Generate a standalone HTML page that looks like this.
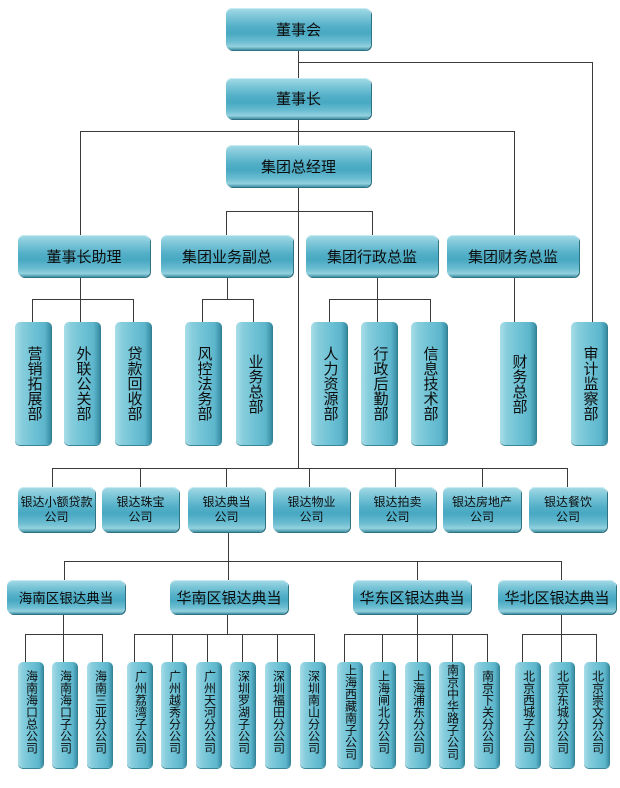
<!DOCTYPE html>
<html>
<head>
<meta charset="utf-8">
<style>
html,body{margin:0;padding:0;background:#fff;}
body{width:620px;height:788px;position:relative;overflow:hidden;font-family:"Liberation Sans","Noto Sans CJK SC","WenQuanYi Zen Hei",sans-serif;color:#0d0d0d;}
svg{position:absolute;left:0;top:0;}
.h{position:absolute;box-sizing:border-box;border-radius:6px;
background:linear-gradient(to bottom,#a6dbe6 0%,#7cc6d8 20%,#52afc7 45%,#48a9c2 60%,#6bbdd1 80%,#93d1de 92%,#3f8fa3 100%);
box-shadow:1px 1px 0 #2f7283, inset 0 1px 0 #c8ecf3;
display:flex;align-items:center;justify-content:center;text-align:center;white-space:nowrap;}
.v{position:absolute;box-sizing:border-box;border-radius:5px;
background:linear-gradient(to right,#a9dde8 0%,#86cddc 20%,#6fc2d5 50%,#5db6cc 80%,#3f95ab 94%,#2f7a8d 100%);
box-shadow:0 1px 0 #3a8599;
display:flex;align-items:center;justify-content:center;}
.vt{writing-mode:vertical-rl;text-orientation:upright;letter-spacing:0;}
.big{font-size:15px;}
.d{font-size:15px;line-height:15px;}
.d .vt{line-height:16px;}
.c{font-size:12px;line-height:15px;white-space:normal;}
.r{font-size:15px;}
.b{font-size:12px;}
.b .vt{line-height:13px;margin-top:-6px;}
</style>
</head>
<body>
<svg width="620" height="788" viewBox="0 0 620 788">
<g stroke="#3a3a3a" stroke-width="1" fill="none" shape-rendering="crispEdges">
<!-- top -->
<line x1="298.5" y1="50" x2="298.5" y2="78"/>
<line x1="298" y1="62.5" x2="593" y2="62.5"/>
<line x1="592.5" y1="62" x2="592.5" y2="322"/>
<line x1="298.5" y1="119" x2="298.5" y2="145"/>
<line x1="80" y1="131.5" x2="515" y2="131.5"/>
<line x1="80.5" y1="131" x2="80.5" y2="235"/>
<line x1="514.5" y1="131" x2="514.5" y2="235"/>
<line x1="298.5" y1="187" x2="298.5" y2="469"/>
<line x1="226" y1="211.5" x2="373" y2="211.5"/>
<line x1="226.5" y1="211" x2="226.5" y2="235"/>
<line x1="372.5" y1="211" x2="372.5" y2="235"/>
<!-- assistant -->
<line x1="80.5" y1="277" x2="80.5" y2="322"/>
<line x1="32" y1="299.5" x2="134" y2="299.5"/>
<line x1="32.5" y1="299" x2="32.5" y2="322"/>
<line x1="133.5" y1="299" x2="133.5" y2="322"/>
<!-- business -->
<line x1="227.5" y1="277" x2="227.5" y2="299"/>
<line x1="202" y1="299.5" x2="254" y2="299.5"/>
<line x1="202.5" y1="299" x2="202.5" y2="322"/>
<line x1="253.5" y1="299" x2="253.5" y2="322"/>
<!-- admin -->
<line x1="377.5" y1="277" x2="377.5" y2="322"/>
<line x1="329" y1="299.5" x2="431" y2="299.5"/>
<line x1="329.5" y1="299" x2="329.5" y2="322"/>
<line x1="430.5" y1="299" x2="430.5" y2="322"/>
<!-- finance -->
<line x1="514.5" y1="277" x2="514.5" y2="322"/>
<!-- companies -->
<line x1="52" y1="468.5" x2="568" y2="468.5"/>
<line x1="52.5" y1="468" x2="52.5" y2="487"/>
<line x1="140.5" y1="468" x2="140.5" y2="487"/>
<line x1="226.5" y1="468" x2="226.5" y2="487"/>
<line x1="309.5" y1="468" x2="309.5" y2="487"/>
<line x1="395.5" y1="468" x2="395.5" y2="487"/>
<line x1="482.5" y1="468" x2="482.5" y2="487"/>
<line x1="567.5" y1="468" x2="567.5" y2="487"/>
<!-- pawn -->
<line x1="228.5" y1="532" x2="228.5" y2="580"/>
<line x1="65" y1="561.5" x2="562" y2="561.5"/>
<line x1="64.5" y1="561" x2="64.5" y2="580"/>
<line x1="417.5" y1="561" x2="417.5" y2="580"/>
<line x1="561.5" y1="561" x2="561.5" y2="580"/>
<!-- regions down -->
<line x1="63.5" y1="614" x2="63.5" y2="662"/>
<line x1="227.5" y1="614" x2="227.5" y2="634"/>
<line x1="417.5" y1="614" x2="417.5" y2="662"/>
<line x1="561.5" y1="614" x2="561.5" y2="662"/>
<line x1="25" y1="634.5" x2="103" y2="634.5"/>
<line x1="25.5" y1="634" x2="25.5" y2="662"/>
<line x1="102.5" y1="634" x2="102.5" y2="662"/>
<line x1="134" y1="634.5" x2="315" y2="634.5"/>
<line x1="134.5" y1="634" x2="134.5" y2="662"/>
<line x1="172.5" y1="634" x2="172.5" y2="662"/>
<line x1="207.5" y1="634" x2="207.5" y2="662"/>
<line x1="242.5" y1="634" x2="242.5" y2="662"/>
<line x1="277.5" y1="634" x2="277.5" y2="662"/>
<line x1="314.5" y1="634" x2="314.5" y2="662"/>
<line x1="344" y1="634.5" x2="488" y2="634.5"/>
<line x1="344.5" y1="634" x2="344.5" y2="662"/>
<line x1="382.5" y1="634" x2="382.5" y2="662"/>
<line x1="452.5" y1="634" x2="452.5" y2="662"/>
<line x1="487.5" y1="634" x2="487.5" y2="662"/>
<line x1="522" y1="634.5" x2="597" y2="634.5"/>
<line x1="522.5" y1="634" x2="522.5" y2="662"/>
<line x1="596.5" y1="634" x2="596.5" y2="662"/>
</g>
</svg>

<!-- top -->
<div class="h big" style="left:226px;top:8px;width:145px;height:42px;">董事会</div>
<div class="h big" style="left:226px;top:78px;width:145px;height:41px;">董事长</div>
<div class="h big" style="left:226px;top:145px;width:145px;height:42px;">集团总经理</div>

<!-- level 3 -->
<div class="h big" style="left:18px;top:235px;width:132px;height:42px;">董事长助理</div>
<div class="h big" style="left:161px;top:235px;width:132px;height:42px;">集团业务副总</div>
<div class="h big" style="left:306px;top:235px;width:132px;height:42px;">集团行政总监</div>
<div class="h big" style="left:447px;top:235px;width:132px;height:42px;">集团财务总监</div>

<!-- departments -->
<div class="v d" style="left:15px;top:322px;width:37px;height:123px;"><span class="vt">营销拓展部</span></div>
<div class="v d" style="left:64px;top:322px;width:37px;height:123px;"><span class="vt">外联公关部</span></div>
<div class="v d" style="left:115px;top:322px;width:37px;height:123px;"><span class="vt">贷款回收部</span></div>
<div class="v d" style="left:185px;top:322px;width:37px;height:123px;"><span class="vt">风控法务部</span></div>
<div class="v d" style="left:236px;top:322px;width:37px;height:123px;"><span class="vt">业务总部</span></div>
<div class="v d" style="left:311px;top:322px;width:37px;height:123px;"><span class="vt">人力资源部</span></div>
<div class="v d" style="left:361px;top:322px;width:37px;height:123px;"><span class="vt">行政后勤部</span></div>
<div class="v d" style="left:411px;top:322px;width:37px;height:123px;"><span class="vt">信息技术部</span></div>
<div class="v d" style="left:500px;top:322px;width:37px;height:123px;"><span class="vt">财务总部</span></div>
<div class="v d" style="left:571px;top:322px;width:37px;height:123px;"><span class="vt">审计监察部</span></div>

<!-- companies -->
<div class="h c" style="left:18px;top:487px;width:77px;height:45px;">银达小额贷款<br>公司</div>
<div class="h c" style="left:102px;top:487px;width:77px;height:45px;">银达珠宝<br>公司</div>
<div class="h c" style="left:188px;top:487px;width:77px;height:45px;">银达典当<br>公司</div>
<div class="h c" style="left:273px;top:487px;width:77px;height:45px;">银达物业<br>公司</div>
<div class="h c" style="left:359px;top:487px;width:77px;height:45px;">银达拍卖<br>公司</div>
<div class="h c" style="left:443px;top:487px;width:78px;height:45px;">银达房地产<br>公司</div>
<div class="h c" style="left:529px;top:487px;width:78px;height:45px;">银达餐饮<br>公司</div>

<!-- regions -->
<div class="h" style="left:7px;top:580px;width:118px;height:34px;font-size:13.5px;">海南区银达典当</div>
<div class="h r" style="left:170px;top:580px;width:118px;height:34px;">华南区银达典当</div>
<div class="h r" style="left:353px;top:580px;width:118px;height:34px;">华东区银达典当</div>
<div class="h r" style="left:498px;top:580px;width:118px;height:34px;">华北区银达典当</div>

<!-- branches -->
<div class="v b" style="left:18px;top:662px;width:26px;height:106px;"><span class="vt">海南海口总公司</span></div>
<div class="v b" style="left:52px;top:662px;width:26px;height:106px;"><span class="vt">海南海口子公司</span></div>
<div class="v b" style="left:87px;top:662px;width:26px;height:106px;"><span class="vt">海南三亚分公司</span></div>
<div class="v b" style="left:127px;top:662px;width:26px;height:106px;"><span class="vt">广州荔湾子公司</span></div>
<div class="v b" style="left:161px;top:662px;width:26px;height:106px;"><span class="vt">广州越秀分公司</span></div>
<div class="v b" style="left:196px;top:662px;width:26px;height:106px;"><span class="vt">广州天河分公司</span></div>
<div class="v b" style="left:230px;top:662px;width:26px;height:106px;"><span class="vt">深圳罗湖子公司</span></div>
<div class="v b" style="left:265px;top:662px;width:26px;height:106px;"><span class="vt">深圳福田分公司</span></div>
<div class="v b" style="left:300px;top:662px;width:26px;height:106px;"><span class="vt">深圳南山分公司</span></div>
<div class="v b" style="left:337px;top:662px;width:26px;height:106px;"><span class="vt">上海西藏南子公司</span></div>
<div class="v b" style="left:370px;top:662px;width:26px;height:106px;"><span class="vt">上海闸北分公司</span></div>
<div class="v b" style="left:405px;top:662px;width:26px;height:106px;"><span class="vt">上海浦东分公司</span></div>
<div class="v b" style="left:439px;top:662px;width:26px;height:106px;"><span class="vt">南京中华路子公司</span></div>
<div class="v b" style="left:474px;top:662px;width:26px;height:106px;"><span class="vt">南京下关分公司</span></div>
<div class="v b" style="left:515px;top:662px;width:26px;height:106px;"><span class="vt">北京西城子公司</span></div>
<div class="v b" style="left:549px;top:662px;width:26px;height:106px;"><span class="vt">北京东城分公司</span></div>
<div class="v b" style="left:584px;top:662px;width:26px;height:106px;"><span class="vt">北京崇文分公司</span></div>
</body>
</html>
